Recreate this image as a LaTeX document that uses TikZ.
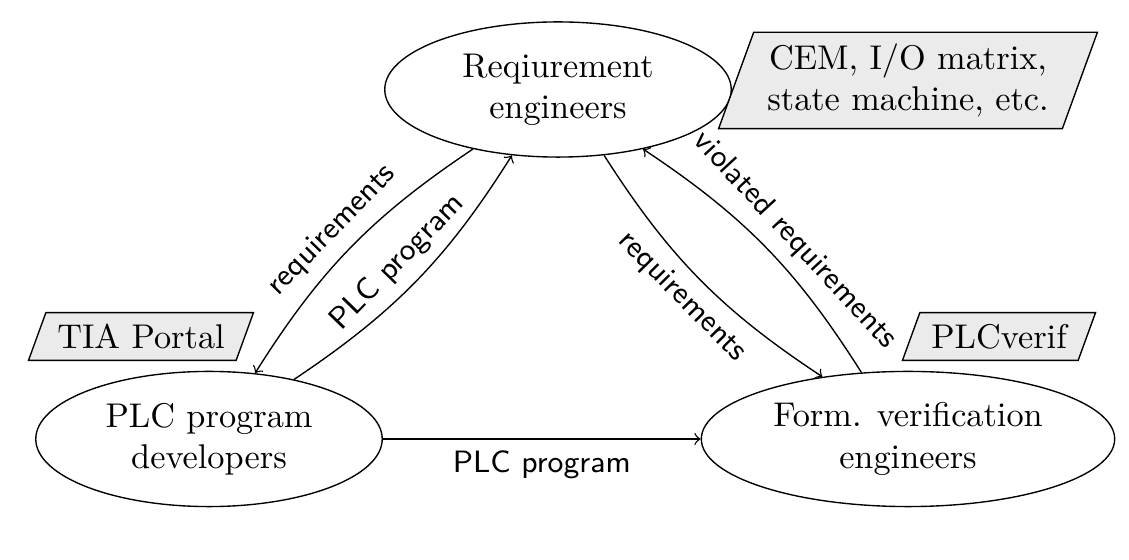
\documentclass[tikz,border=0pt]{standalone}
\usetikzlibrary{shapes.geometric}
\definecolor{boxgray}{RGB}{235,235,235}
\begin{document}
\begin{tikzpicture}[x=0.2915pt,y=-0.2915pt,
  actor/.style={ellipse,draw,align=center,minimum width=101pt,minimum height=39.4pt},
  tool/.style={trapezium,trapezium left angle=70,trapezium right angle=110,draw,fill=boxgray,align=center},
  lbl/.style={font=\small\sffamily},
  flow/.style={->}]
\useasboundingbox (0,0) rectangle (1129,560);
\node[actor] (req) at (558,89.5) {Reqiurement\\engineers};
\node[actor] (dev) at (209,439) {PLC program\\developers};
\node[actor] (form) at (908,439) {Form. verification\\engineers};
\node[tool,inner xsep=4pt] (cem) at (908,80.5) {CEM, I/O matrix,\\state machine, etc.};
\node[tool] (tia) at (141,336.5) {TIA Portal};
\node[tool] (verif) at (999,336.5) {PLCverif};
\draw[flow] (req.215) to[bend right=12] node[lbl,sloped,above] {requirements} (dev.55);
\draw[flow] (dev.35.3) to[bend right=12] node[lbl,sloped,above] {PLC program} (req.235.5);
\draw[flow] (req.305.7) to[bend right=12] node[lbl,sloped,below] {requirements} (form.144.8);
\draw[flow] (form.125.6) to[bend right=12] node[lbl,sloped,above,pos=0.45] {violated requirements} (req.325);
\draw[flow] (dev) -- node[lbl,below] {PLC program} (form);
\end{tikzpicture}
\end{document}
